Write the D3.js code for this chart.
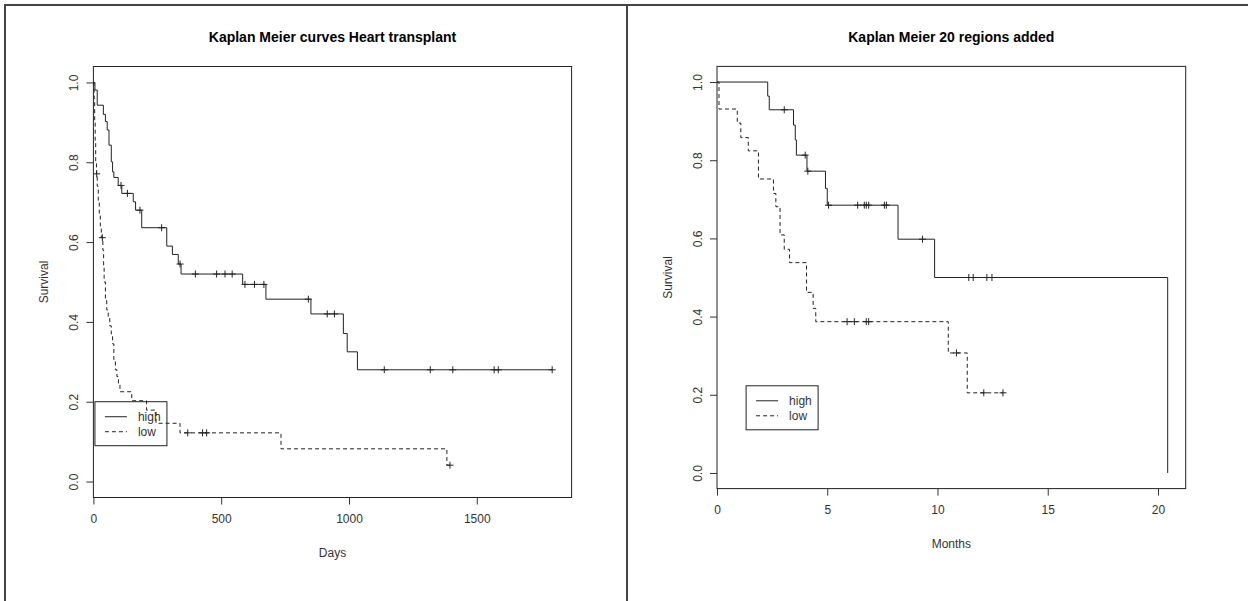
<!DOCTYPE html>
<html>
<head>
  <meta charset="utf-8">
  <title>Kaplan Meier curves</title>
  <script src="https://d3js.org/d3.v7.min.js"></script>
  <style>
    body { margin: 0; background: #fff; }
    svg { font-family: "Liberation Sans", Arial, sans-serif; }
    .axis text { fill: #333; font-size: 12px; }
    .axis line { stroke: #333; }
    .curve { fill: none; stroke: #222; stroke-width: 1; }
    .mark { stroke: #222; stroke-width: 1; }
  </style>
</head>
<body>
<script>
// heart transplant (days): step times and survival after each step
var heartHighTimes = [0, 6, 15, 39, 47, 54, 61, 70, 75, 80, 97, 111, 156, 165, 189, 287, 309, 332, 343, 584, 675, 851, 978, 993, 1033];
var heartHighSurv  = [1, 0.981, 0.943, 0.920, 0.902, 0.881, 0.843, 0.801, 0.776, 0.762, 0.742, 0.722, 0.701, 0.680, 0.636, 0.590, 0.569, 0.545, 0.520, 0.494, 0.457, 0.420, 0.371, 0.325, 0.280];
var heartHighCensor = [108, 133, 182, 267, 339, 399, 482, 515, 543, 593, 630, 667, 841, 915, 943, 1138, 1318, 1406, 1568, 1584, 1795];

var heartLowTimes = [0, 3, 5, 7, 9, 12, 15, 19, 23, 27, 31, 37, 40, 42, 47, 52, 58, 64, 70, 75, 80, 86, 92, 98, 104, 150, 208, 245, 339, 734, 1383];
var heartLowSurv  = [1, 0.96, 0.90, 0.85, 0.80, 0.771, 0.74, 0.70, 0.67, 0.64, 0.611, 0.58, 0.54, 0.50, 0.455, 0.43, 0.413, 0.39, 0.37, 0.345, 0.305, 0.28, 0.263, 0.245, 0.225, 0.2025, 0.179, 0.146, 0.122, 0.082, 0.041];
var heartLowCensor = [13, 35, 369, 427, 443, 1395];

// 20 regions (months)
var regHighTimes = [0, 2.3, 2.37, 3.47, 3.55, 3.6, 4.08, 4.92, 5.0, 8.21, 9.87, 20.44];
var regHighSurv  = [1, 0.964, 0.929, 0.89, 0.852, 0.813, 0.772, 0.728, 0.685, 0.598, 0.5, 0];
var regHighCensor = [3.05, 4.0, 4.12, 5.06, 6.38, 6.68, 6.77, 6.88, 7.59, 7.68, 9.32, 11.42, 11.62, 12.24, 12.47];

var regLowTimes = [0, 0.09, 0.92, 1.08, 1.42, 1.88, 2.56, 2.67, 2.86, 3.05, 3.29, 4.06, 4.36, 4.48, 10.49, 11.35];
var regLowSurv  = [1, 0.931, 0.895, 0.858, 0.824, 0.752, 0.715, 0.681, 0.609, 0.572, 0.538, 0.462, 0.421, 0.387, 0.307, 0.205];
var regLowCensor = [5.9, 6.23, 6.77, 6.88, 10.86, 12.1, 12.97];

var yTicks = [0, 0.2, 0.4, 0.6, 0.8, 1.0];

var svg = d3.select('body').append('svg')
  .attr('width', 1248)
  .attr('height', 601);

// page frame
svg.append('path')
  .attr('d', 'M5,601V5H1248M627,5V601')
  .attr('fill', 'none')
  .attr('stroke', '#444')
  .attr('stroke-width', 2);

function survAt(times, surv, t) {
  var s = surv[0];
  for (var i = 0; i < times.length; i++) if (times[i] <= t) s = surv[i];
  return s;
}

function panel(opt) {
  var x = d3.scaleLinear().domain([0, opt.xMax * 1.04]).range([opt.left, opt.right]);
  var y = d3.scaleLinear().domain([-0.04, 1.04]).range([opt.bottom, opt.top]);
  var g = svg.append('g');

  g.append('rect')
    .attr('x', opt.left).attr('y', opt.top)
    .attr('width', opt.right - opt.left).attr('height', opt.bottom - opt.top)
    .attr('fill', 'none').attr('stroke', '#222');

  var xAxis = g.append('g').attr('class', 'axis')
    .attr('transform', 'translate(0,' + opt.bottom + ')')
    .call(d3.axisBottom(x).tickValues(opt.xTicks).tickSize(7).tickPadding(10).tickFormat(d3.format('d')));
  xAxis.select('.domain').remove();

  var yAxis = g.append('g').attr('class', 'axis')
    .attr('transform', 'translate(' + opt.left + ',0)')
    .call(d3.axisLeft(y).tickValues(yTicks).tickSize(7).tickFormat(d3.format('.1f')));
  yAxis.select('.domain').remove();
  yAxis.selectAll('text')
    .attr('transform', 'rotate(-90)')
    .attr('x', 0).attr('y', -15).attr('dy', 0)
    .attr('text-anchor', 'middle');

  g.append('text')
    .attr('x', (opt.left + opt.right) / 2).attr('y', 42)
    .attr('text-anchor', 'middle')
    .style('font-weight', 'bold').style('font-size', '14px')
    .text(opt.title);
  g.append('text')
    .attr('x', (opt.left + opt.right) / 2).attr('y', opt.bottom + 59)
    .attr('text-anchor', 'middle').style('font-size', '12px').attr('fill', '#333')
    .text(opt.xLabel);
  g.append('text')
    .attr('transform', 'translate(' + (opt.left - 45) + ',' + y(0.5) + ') rotate(-90)')
    .attr('text-anchor', 'middle').style('font-size', '12px').attr('fill', '#333')
    .text('Survival');

  var line = d3.line().curve(d3.curveStepAfter)
    .x(function(d) { return x(d[0]); })
    .y(function(d) { return y(d[1]); });

  opt.series.forEach(function(s) {
    var pts = s.times.map(function(t, i) { return [t, s.surv[i]]; });
    var end = d3.max(s.censor);
    if (end > s.times[s.times.length - 1]) pts.push([end, s.surv[s.surv.length - 1]]);
    g.append('path').attr('class', 'curve')
      .attr('d', line(pts))
      .attr('stroke-dasharray', s.dash ? '4,3' : null);
    g.selectAll(null).data(s.censor).enter().append('path')
      .attr('class', 'mark')
      .attr('d', function(t) {
        var px = x(t), py = y(survAt(s.times, s.surv, t));
        return 'M' + (px - 3.5) + ',' + py + 'H' + (px + 3.5) + 'M' + px + ',' + (py - 3.5) + 'V' + (py + 3.5);
      });
  });

  // legend
  var lx = x(opt.legendX), ly = y(opt.legendY);
  var lg = g.append('g').attr('transform', 'translate(' + lx + ',' + ly + ')');
  lg.append('rect').attr('width', 72).attr('height', 44)
    .attr('fill', 'none').attr('stroke', '#222');
  ['high', 'low'].forEach(function(name, i) {
    lg.append('line').attr('class', 'curve')
      .attr('x1', 10).attr('x2', 32).attr('y1', 15 + i * 15).attr('y2', 15 + i * 15)
      .attr('stroke-dasharray', i ? '4,3' : null);
    lg.append('text').attr('x', 43).attr('y', 19 + i * 15)
      .style('font-size', '12px').attr('fill', '#333').text(name);
  });
}

panel({
  title: 'Kaplan Meier curves Heart transplant', xLabel: 'Days',
  left: 93.4, right: 571.6, top: 66.5, bottom: 497.5,
  xMax: 1799, xTicks: [0, 500, 1000, 1500],
  legendX: 6, legendY: 0.2,
  series: [
    {times: heartHighTimes, surv: heartHighSurv, censor: heartHighCensor, dash: false},
    {times: heartLowTimes, surv: heartLowSurv, censor: heartLowCensor, dash: true}
  ]
});

panel({
  title: 'Kaplan Meier 20 regions added', xLabel: 'Months',
  left: 717, right: 1185.7, top: 66.4, bottom: 488.6,
  xMax: 20.44, xTicks: [0, 5, 10, 15, 20],
  legendX: 1.32, legendY: 0.223,
  series: [
    {times: regHighTimes, surv: regHighSurv, censor: regHighCensor, dash: false},
    {times: regLowTimes, surv: regLowSurv, censor: regLowCensor, dash: true}
  ]
});
</script>
</body>
</html>
